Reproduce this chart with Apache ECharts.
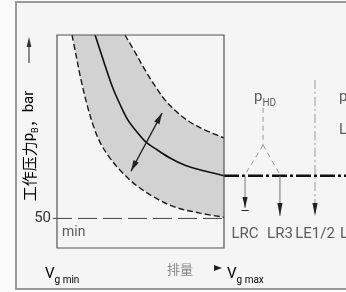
<!DOCTYPE html>
<html>
<head>
<meta charset="utf-8">
<script src="https://cdn.jsdelivr.net/npm/echarts@6/dist/echarts.min.js"></script>
<style>
  html, body { margin: 0; padding: 0; background: #fbfbfb; }
  #chart { width: 346px; height: 292px; }
</style>
</head>
<body>
<div id="chart"></div>
<script>
// 恒功率调节特性：x = 排量 (% Vg max)，y = 工作压力 (bar)
const outerLimit = [[40.7, 360], [46.7, 331], [52.7, 301], [58.7, 274], [64.7, 250], [72.5, 228], [79.6, 213], [87.4, 201], [100, 186]];
const characteristic = [[22.8, 360], [25.7, 335], [29.3, 304], [33.5, 270], [37.7, 243], [42.5, 216], [47.9, 196], [53.3, 179], [59.9, 166], [67.7, 152], [76.6, 140], [88.6, 130], [100, 122]];
const innerLimit = [[9.0, 360], [11.4, 326], [14.4, 284], [18.0, 242], [21.6, 208], [25.7, 179], [31.7, 152], [38.9, 128], [47.9, 105], [58.7, 85], [70.7, 69], [85.6, 59], [100, 52]];
const minPressure = 50;
const yTicks = [50];
const adjustArrow = [[62.9, 228], [44.3, 130]];

// 右侧：压力切断 / 负载敏感控制
const flowLine = [[100, 122], [175, 122]];
const pilotLine = [[123.4, 237], [123.4, 174]];
const pilotBranches = [[[123.4, 174], [112.6, 124]], [[123.4, 174], [133.5, 124]]];
const valveNames = ['LRC', 'LR3', 'LE1/2', 'L'];
const valveX = [112.6, 133.5, 154.5, 169.5];
const valveTipY = [67.6, 54.1, 54.1];
const valveLabelY = 23.7;
const leTopY = 284;

const latin = 'Liberation Sans Narrow, Roboto, sans-serif';
const cjk = 'Noto Sans CJK SC, sans-serif';

const chart = echarts.init(document.getElementById('chart'));

const band = outerLimit.concat([[100, innerLimit[innerLimit.length - 1][1]]], innerLimit.slice().reverse());

const segments = [
  { pts: [[-2.4, minPressure], [100, minPressure]], color: '#444', width: 1, dash: [19, 6] },
  { pts: flowLine, color: '#111', width: 2.6, dash: [15, 3, 3, 3] },
  { pts: pilotLine, color: '#999', width: 1, dash: [5, 4] },
  { pts: pilotBranches[0], color: '#999', width: 1, dash: [5, 4] },
  { pts: pilotBranches[1], color: '#999', width: 1, dash: [5, 4] }
];

const arrows = [
  { from: adjustArrow[0], to: adjustArrow[1], both: true, color: '#222', width: 1.3, len: 11, half: 3 },
  { from: [valveX[0], flowLine[0][1]], to: [valveX[0], valveTipY[0]], bar: true, color: '#777', width: 1, len: 11, half: 2.6 },
  { from: [valveX[1], flowLine[0][1]], to: [valveX[1], valveTipY[1]], color: '#777', width: 1, len: 13, half: 2.6 },
  { from: [valveX[2], leTopY], to: [valveX[2], valveTipY[2]], dash: [9, 3, 2, 3], color: '#999', width: 1, len: 13, half: 2.6 }
];

const head = (tip, tail, len, half) => {
  const dx = tip[0] - tail[0], dy = tip[1] - tail[1];
  const d = Math.hypot(dx, dy), ux = dx / d, uy = dy / d;
  const bx = tip[0] - ux * len, by = tip[1] - uy * len;
  return [tip, [bx - uy * half, by + ux * half], [bx + uy * half, by - ux * half]];
};

const rich = {
  m: { fontSize: 15, fontFamily: latin, color: '#333', lineHeight: 22 },
  s: { fontSize: 10, fontFamily: latin, color: '#333', lineHeight: 22, verticalAlign: 'bottom' }
};

const labels = [
  { name: 'min', value: [3.0, 26.2], align: 'left' },
  { name: '{m|p}{s|HD}', value: [124.6, 255.2] },
  { name: '{m|p}', value: [168.9, 255.2], align: 'left' },
  { name: '{m|L}', value: [168.9, 199.4], align: 'left' }
].concat(valveNames.map((n, i) => ({
  name: '{m|' + n + '}', value: [valveX[i], valveLabelY], align: i === 3 ? 'left' : 'center'
})));

const dashed = { color: '#1a1a1a', width: 1.4, type: [6, 3] };

chart.setOption({
  animation: false,
  grid: { left: 57, top: 35, width: 167, height: 213 },
  xAxis: { type: 'value', min: 0, max: 100, show: false },
  yAxis: {
    type: 'value', min: 0, max: 360, interval: 50,
    axisLine: { show: false }, axisTick: { show: false }, splitLine: { show: false },
    axisLabel: {
      margin: 6, color: '#333', fontSize: 15, fontFamily: latin,
      formatter: (v) => (yTicks.includes(v) ? String(v) : '')
    }
  },
  graphic: [
    { type: 'rect', z: -10, shape: { x: 16, y: 2, width: 340, height: 287 }, style: { fill: '#f5f5f5', stroke: '#9a9a9a', lineWidth: 2 } },
    {
      type: 'text', x: 29, y: 146, rotation: Math.PI / 2,
      style: {
        text: '{c|工作压力}{m|p}{s|B}{c|，}{m|bar}', align: 'center', verticalAlign: 'middle',
        rich: {
          c: { fontSize: 15, fontFamily: cjk, color: '#8a8a8a', lineHeight: 22 },
          m: { fontSize: 15, fontFamily: latin, color: '#555', lineHeight: 22 },
          s: { fontSize: 9, fontFamily: latin, color: '#555', lineHeight: 22, verticalAlign: 'bottom' }
        }
      }
    },
    { type: 'line', shape: { x1: 29, y1: 63, x2: 29, y2: 44 }, style: { stroke: '#444', lineWidth: 1.2 } },
    { type: 'polygon', shape: { points: [[29, 37], [26.6, 47], [31.4, 47]] }, style: { fill: '#333' } },
    { type: 'text', x: 45, y: 274, style: { text: '{m|V}{s|g min}', verticalAlign: 'middle', rich: rich } },
    { type: 'text', x: 180, y: 269, style: { text: '排量', align: 'center', verticalAlign: 'middle', font: '13px ' + cjk, fill: '#888' } },
    { type: 'polygon', shape: { points: [[214, 265], [214, 271], [222, 268]] }, style: { fill: '#222' } },
    { type: 'text', x: 227, y: 274, style: { text: '{m|V}{s|g max}', verticalAlign: 'middle', rich: rich } }
  ],
  series: [
    {
      type: 'custom', z: 1, silent: true, data: [0],
      renderItem: (params, api) => ({
        type: 'polygon',
        shape: { points: band.map((p) => api.coord(p)) },
        style: { fill: '#d2d2d2' }
      })
    },
    { type: 'line', z: 2, data: outerLimit, symbol: 'none', smooth: 0.35, lineStyle: dashed },
    { type: 'line', z: 2, data: innerLimit, symbol: 'none', smooth: 0.35, lineStyle: dashed },
    { type: 'line', z: 2, data: characteristic, symbol: 'none', smooth: 0.35, lineStyle: { color: '#111', width: 1.6 } },
    {
      type: 'custom', z: 2, silent: true, clip: false, data: segments.map((s, i) => i),
      renderItem: (params, api) => {
        const s = segments[params.dataIndex];
        return {
          type: 'polyline',
          shape: { points: s.pts.map((p) => api.coord(p)) },
          style: { stroke: s.color, lineWidth: s.width, lineDash: s.dash, fill: 'none' }
        };
      }
    },
    {
      type: 'custom', z: 3, silent: true, data: [0],
      renderItem: (params, api) => {
        const a = api.coord([0, 360]);
        const b = api.coord([100, 0]);
        return {
          type: 'rect',
          shape: { x: a[0], y: a[1], width: b[0] - a[0], height: b[1] - a[1] },
          style: { fill: 'none', stroke: '#555', lineWidth: 1.2 }
        };
      }
    },
    {
      type: 'custom', z: 4, silent: true, clip: false, data: arrows.map((a, i) => i),
      renderItem: (params, api) => {
        const a = arrows[params.dataIndex];
        const p0 = api.coord(a.from), p1 = api.coord(a.to);
        const children = [{
          type: 'line',
          shape: { x1: p0[0], y1: p0[1], x2: p1[0], y2: p1[1] },
          style: { stroke: a.color, lineWidth: a.width, lineDash: a.dash || null }
        }];
        children.push({ type: 'polygon', shape: { points: head(p1, p0, a.len, a.half) }, style: { fill: '#222' } });
        if (a.both) children.push({ type: 'polygon', shape: { points: head(p0, p1, a.len, a.half) }, style: { fill: '#222' } });
        if (a.bar) children.push({ type: 'line', shape: { x1: p1[0] - 3.5, y1: p1[1] + 2.5, x2: p1[0] + 3.5, y2: p1[1] + 2.5 }, style: { stroke: '#222', lineWidth: 1 } });
        return { type: 'group', children: children };
      }
    },
    {
      type: 'scatter', z: 5, clip: false, silent: true, symbolSize: 0,
      data: labels.map((l) => ({
        name: l.name, value: l.value,
        label: { align: l.align || 'center' }
      })),
      label: {
        show: true, position: 'inside', verticalAlign: 'middle',
        fontSize: 14, fontFamily: latin, color: '#333',
        formatter: (p) => p.name, rich: rich
      }
    }
  ]
});
</script>
</body>
</html>
